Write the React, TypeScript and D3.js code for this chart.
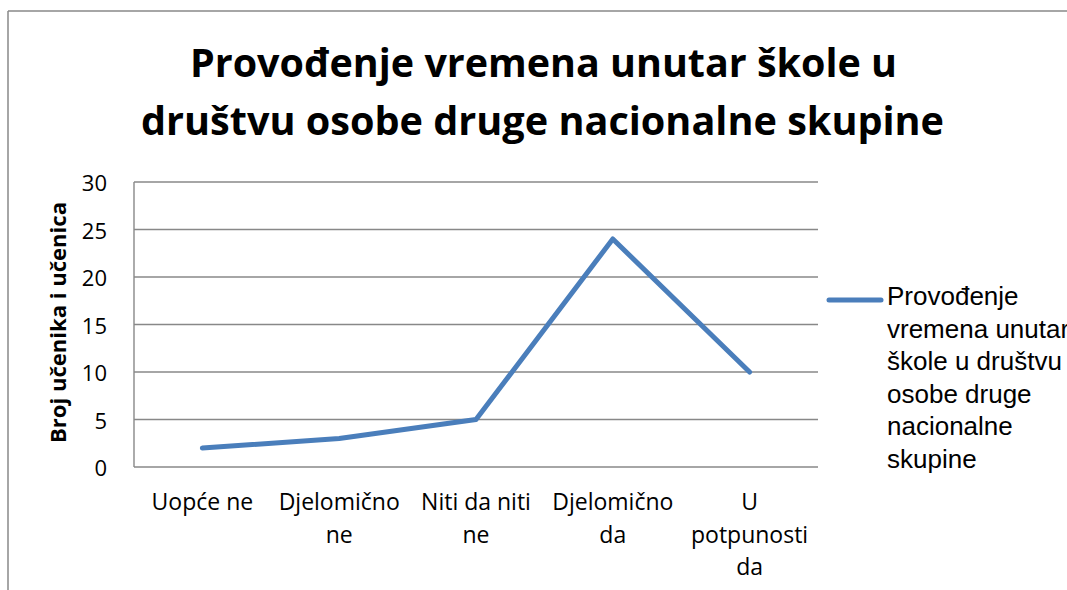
import React from "react";
import * as d3 from "d3";

const categories: string[][] = [
  ["Uopće ne"],
  ["Djelomično", "ne"],
  ["Niti da niti", "ne"],
  ["Djelomično", "da"],
  ["U", "potpunosti", "da"],
];
const values: number[] = [2, 3, 5, 24, 10];
const yTicks: number[] = [0, 5, 10, 15, 20, 25, 30];
const titleLines: string[] = [
  "Provođenje vremena unutar škole u",
  "društvu osobe druge nacionalne skupine",
];
const yAxisTitle = "Broj učenika i učenica";
const legendLines: string[] = [
  "Provođenje",
  "vremena unutar",
  "škole u društvu",
  "osobe druge",
  "nacionalne",
  "skupine",
];

const W = 1067;
const H = 590;
const plot = { left: 134, right: 818, top: 182, bottom: 467 };
const lineColor = "#4a7ebb";
const gridColor = "#888888";

export default function App() {
  const keys = categories.map((c) => c.join(" "));
  const x = d3
    .scaleBand<string>()
    .domain(keys)
    .range([plot.left, plot.right])
    .padding(0);
  const y = d3.scaleLinear().domain([0, 30]).range([plot.bottom, plot.top]);
  const cx = (i: number) => (x(keys[i]) as number) + x.bandwidth() / 2;

  const path = d3
    .line<number>()
    .x((_, i) => cx(i))
    .y((d) => y(d))
    .curve(d3.curveLinear)(values) as string;

  return (
    <svg
      width={W}
      height={H}
      style={{ position: "absolute", left: 0, top: 0, background: "#fff" }}
    >
      {/* outer border */}
      <line x1={8} y1={11} x2={W} y2={11} stroke={gridColor} strokeWidth={1.5} />
      <line x1={8} y1={11} x2={8} y2={H} stroke={gridColor} strokeWidth={1.5} />

      {/* title */}
      <g fontFamily="'Open Sans', sans-serif" fontWeight="bold" fontSize={40} fill="#000">
        <text x={543.5} y={77} textAnchor="middle" textLength={707} lengthAdjust="spacingAndGlyphs">
          {titleLines[0]}
        </text>
        <text x={542.5} y={135} textAnchor="middle" textLength={803} lengthAdjust="spacingAndGlyphs">
          {titleLines[1]}
        </text>
      </g>

      {/* gridlines */}
      {yTicks.map((t) => (
        <line
          key={t}
          x1={plot.left}
          x2={plot.right}
          y1={y(t)}
          y2={y(t)}
          stroke={gridColor}
          strokeWidth={1.4}
        />
      ))}
      <line x1={plot.left} x2={plot.left} y1={plot.top} y2={plot.bottom} stroke={gridColor} strokeWidth={1.4} />

      {/* y tick labels */}
      <g fontFamily="'Open Sans', sans-serif" fontSize={22} fill="#000">
        {yTicks.map((t) => (
          <text key={t} x={107} y={y(t)} textAnchor="end" dominantBaseline="central">
            {t}
          </text>
        ))}
      </g>

      {/* y axis title */}
      <text
        transform={`translate(66, ${(plot.top + plot.bottom) / 2 - 2}) rotate(-90)`}
        textAnchor="middle"
        fontFamily="'Open Sans', sans-serif"
        fontWeight="bold"
        fontSize={21}
        textLength={241}
        lengthAdjust="spacingAndGlyphs"
        fill="#000"
      >
        {yAxisTitle}
      </text>

      {/* x category labels */}
      <g fontFamily="'Open Sans', sans-serif" fontSize={23} fill="#000">
        {categories.map((lines, i) =>
          lines.map((ln, j) => (
            <text key={i + "-" + j} x={cx(i)} y={510 + j * 32.5} textAnchor="middle">
              {ln}
            </text>
          ))
        )}
      </g>

      {/* series line */}
      <path
        d={path}
        fill="none"
        stroke={lineColor}
        strokeWidth={5}
        strokeLinejoin="round"
        strokeLinecap="round"
      />

      {/* legend */}
      <line x1={829} x2={881} y1={300} y2={300} stroke={lineColor} strokeWidth={5} strokeLinecap="round" />
      <g fontFamily="'Liberation Sans', Arial, sans-serif" fontSize={26} fill="#000">
        {legendLines.map((ln, i) => (
          <text key={i} x={887} y={305 + i * 32.5}>
            {ln}
          </text>
        ))}
      </g>
    </svg>
  );
}
